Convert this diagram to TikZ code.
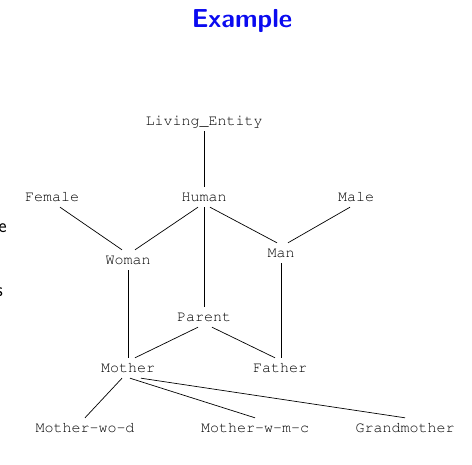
\documentclass[tikz,border=0pt]{standalone}
\usepackage{fontspec}
\usetikzlibrary{calc}
\definecolor{titleblue}{RGB}{10,10,240}
\newcommand{\courierfam}{\fontencoding{T1}\fontfamily{pcr}\fontseries{m}\fontshape{n}\selectfont}
\begin{document}
\begin{tikzpicture}[x=1pt,y=-1pt,
  lbl/.style={font=\courierfam\fontsize{15}{15}\selectfont, inner sep=0pt, text height=14pt, text depth=6pt, anchor=base},
  edge/.style={draw=black, line width=0.7pt},
  frag/.style={font=\sffamily\fontsize{20}{20}\selectfont, inner sep=0pt, anchor=base east}]
\useasboundingbox (0,0) rectangle (472,464);
\node[font=\sffamily\bfseries\fontsize{26}{26}\selectfont, text=titleblue, anchor=base, inner sep=0pt] (title) at (242,27) {Example};
\node[frag] (fe) at (7,232) {e};
\node[frag] (fs) at (3,296) {s};
\node[lbl] (le) at (204,125) {Living\_Entity};
\node[lbl] (human) at (204,201) {Human};
\node[lbl] (female) at (52,201) {Female};
\node[lbl] (male) at (356,201) {Male};
\node[lbl] (woman) at (128,264) {Woman};
\node[lbl] (man) at (281,257) {Man};
\node[lbl] (parent) at (204,321) {Parent};
\node[lbl] (mother) at (128,372) {Mother};
\node[lbl] (father) at (280,372) {Father};
\node[lbl] (mwod) at (85,432) {Mother-wo-d};
\node[lbl] (mwmc) at (255,432) {Mother-w-m-c};
\node[lbl] (grand) at (405,432) {Grandmother};
\draw[edge] (le.south) -- (human.north);
\draw[edge] ($(human.south)+(-6,0)$) -- ($(woman.north)+(7,0)$);
\draw[edge] (human.south) -- (parent.north);
\draw[edge] ($(human.south)+(6,0)$) -- ($(man.north)+(-4,0)$);
\draw[edge] ($(female.south)+(8,0)$) -- ($(woman.north)+(-6,0)$);
\draw[edge] ($(male.south)+(-6,0)$) -- ($(man.north)+(7,0)$);
\draw[edge] (woman.south) -- (mother.north);
\draw[edge] (man.south) -- ($(father.north)+(1,0)$);
\draw[edge] ($(parent.south)+(-6,0)$) -- ($(mother.north)+(7,0)$);
\draw[edge] ($(parent.south)+(8,0)$) -- ($(father.north)+(-5,0)$);
\draw[edge] ($(mother.south)+(-6,0)$) -- (mwod.north);
\draw[edge] ($(mother.south)+(2,0)$) -- (mwmc.north);
\draw[edge] ($(mother.south)+(13,0)$) -- (grand.north);
\end{tikzpicture}
\end{document}
